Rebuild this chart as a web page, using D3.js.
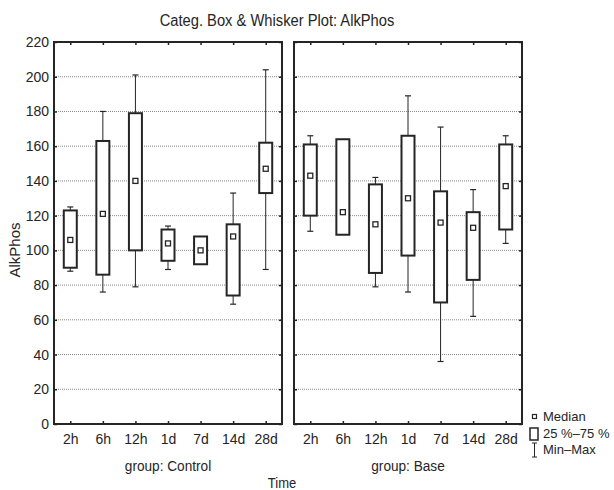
<!DOCTYPE html>
<html>
<head>
<meta charset="utf-8">
<script src="https://cdn.jsdelivr.net/npm/d3@7"></script>
<style>
  body { margin: 0; background: #fff; }
  svg { display: block; font-family: "Liberation Sans", Arial, sans-serif; }
</style>
</head>
<body>
<script>
let W = 614;
let H = 490;

// categories
let times = ["2h", "6h", "12h", "1d", "7d", "14d", "28d"];
let groups = ["Control", "Base"];
let yTicks = [0, 20, 40, 60, 80, 100, 120, 140, 160, 180, 200, 220];

// group: Control
let controlMin = [88, 76, 79, 89, 92, 69, 89];
let controlQ1  = [90, 86, 100, 94, 92, 74, 133];
let controlMed = [106, 121, 140, 104, 100, 108, 147];
let controlQ3  = [123, 163, 179, 112, 108, 115, 162];
let controlMax = [125, 180, 201, 114, 108, 133, 204];

// group: Base
let baseMin = [111, 109, 79, 76, 36, 62, 104];
let baseQ1  = [120, 109, 87, 97, 70, 83, 112];
let baseMed = [143, 122, 115, 130, 116, 113, 137];
let baseQ3  = [161, 164, 138, 166, 134, 122, 161];
let baseMax = [166, 164, 142, 189, 171, 135, 166];

let ink = "#252525";

let panels = [
  { name: groups[0], left: 54, right: 282, min: controlMin, q1: controlQ1, med: controlMed, q3: controlQ3, max: controlMax },
  { name: groups[1], left: 294, right: 522, min: baseMin, q1: baseQ1, med: baseMed, q3: baseQ3, max: baseMax }
];

let plotTop = 42, plotBot = 424;

let svg = d3.select("body").append("svg")
  .attr("width", W)
  .attr("height", H);

let yScale = d3.scaleLinear().domain([0, 220]).range([plotBot, plotTop]);

// slightly condensed labels, like the original
let label = (txt, x, y, size, sx) =>
  svg.append("text")
    .text(txt)
    .attr("transform", "translate(" + x + "," + y + ") scale(" + sx + ",1)")
    .attr("text-anchor", "middle")
    .attr("font-size", size + "px")
    .attr("fill", ink);

label("Categ. Box & Whisker Plot: AlkPhos", 277, 26, 16, 0.92);
label("Time", 282, 488, 14, 0.93);

svg.append("text")
  .text("AlkPhos")
  .attr("transform", "translate(20, 250) rotate(-90)")
  .attr("text-anchor", "middle")
  .attr("font-size", "15px")
  .attr("fill", ink);

let boxW = 13;
let capW = 6;

panels.forEach((p, pi) => {
  let xScale = d3.scalePoint().domain(times).range([p.left, p.right]).padding(0.5);
  let g = svg.append("g");

  // grid
  g.selectAll(".grid")
    .data(yTicks.filter(d => d > 0 && d < 220))
    .enter().append("line")
    .attr("x1", p.left).attr("x2", p.right)
    .attr("y1", d => yScale(d)).attr("y2", d => yScale(d))
    .attr("stroke", "#8a8a8a")
    .attr("stroke-width", 1)
    .attr("stroke-dasharray", "1,1");

  // axes with inward ticks
  let yl = g.append("g")
    .attr("transform", "translate(" + p.left + ",0)")
    .call(d3.axisLeft(yScale).tickValues(yTicks).tickSizeInner(-3).tickSizeOuter(0).tickPadding(5));
  if (pi > 0) yl.selectAll("text").remove();
  g.append("g")
    .attr("transform", "translate(" + p.right + ",0)")
    .call(d3.axisRight(yScale).tickValues(yTicks).tickSizeInner(-3).tickSizeOuter(0))
    .selectAll("text").remove();
  g.append("g")
    .attr("transform", "translate(0," + plotBot + ")")
    .call(d3.axisBottom(xScale).tickSizeInner(-3).tickSizeOuter(0).tickPadding(10));
  g.append("g")
    .attr("transform", "translate(0," + plotTop + ")")
    .call(d3.axisTop(xScale).tickSizeInner(-3).tickSizeOuter(0))
    .selectAll("text").remove();

  g.selectAll(".domain").remove();
  g.selectAll(".tick line").attr("stroke", ink).attr("stroke-width", 1.5);
  g.selectAll(".tick text").attr("font-size", "14px").attr("fill", ink).attr("font-family", "Liberation Sans, Arial, sans-serif");

  // frame
  g.append("rect")
    .attr("x", p.left).attr("y", plotTop)
    .attr("width", p.right - p.left).attr("height", plotBot - plotTop)
    .attr("fill", "none")
    .attr("stroke", ink)
    .attr("stroke-width", 2);

  let rows = times.map((t, i) => ({ t: t, min: p.min[i], q1: p.q1[i], med: p.med[i], q3: p.q3[i], max: p.max[i] }));

  let item = g.selectAll(".item").data(rows).enter().append("g")
    .attr("transform", d => "translate(" + xScale(d.t) + ",0)");

  // whiskers
  item.filter(d => d.max > d.q3).append("line")
    .attr("y1", d => yScale(d.q3)).attr("y2", d => yScale(d.max))
    .attr("stroke", ink).attr("stroke-width", 1);
  item.filter(d => d.max > d.q3).append("line")
    .attr("x1", -capW / 2).attr("x2", capW / 2)
    .attr("y1", d => yScale(d.max)).attr("y2", d => yScale(d.max))
    .attr("stroke", ink).attr("stroke-width", 1.2);
  item.filter(d => d.min < d.q1).append("line")
    .attr("y1", d => yScale(d.q1)).attr("y2", d => yScale(d.min))
    .attr("stroke", ink).attr("stroke-width", 1);
  item.filter(d => d.min < d.q1).append("line")
    .attr("x1", -capW / 2).attr("x2", capW / 2)
    .attr("y1", d => yScale(d.min)).attr("y2", d => yScale(d.min))
    .attr("stroke", ink).attr("stroke-width", 1.2);

  // box
  item.append("rect")
    .attr("x", -boxW / 2)
    .attr("y", d => yScale(d.q3))
    .attr("width", boxW)
    .attr("height", d => yScale(d.q1) - yScale(d.q3))
    .attr("fill", "#fff")
    .attr("stroke", ink)
    .attr("stroke-width", 2);

  // median
  item.append("rect")
    .attr("x", -2.5)
    .attr("y", d => yScale(d.med) - 2.5)
    .attr("width", 5).attr("height", 5)
    .attr("fill", "#fff")
    .attr("stroke", ink)
    .attr("stroke-width", 1.3);

  label("group: " + p.name, (p.left + p.right) / 2, 471, 15.5, 0.88);
});

// legend
let lg = svg.append("g");
lg.append("rect").attr("x", 532.5).attr("y", 414.5).attr("width", 4).attr("height", 4)
  .attr("fill", "#fff").attr("stroke", ink).attr("stroke-width", 1.2);
lg.append("rect").attr("x", 530).attr("y", 428).attr("width", 8).attr("height", 12)
  .attr("fill", "#fff").attr("stroke", ink).attr("stroke-width", 1.5);
lg.append("line").attr("x1", 534.5).attr("x2", 534.5).attr("y1", 443).attr("y2", 457)
  .attr("stroke", ink).attr("stroke-width", 1);
lg.append("line").attr("x1", 532).attr("x2", 537).attr("y1", 443).attr("y2", 443)
  .attr("stroke", ink).attr("stroke-width", 1);
lg.append("line").attr("x1", 532).attr("x2", 537).attr("y1", 457).attr("y2", 457)
  .attr("stroke", ink).attr("stroke-width", 1);
let legendLabels = ["Median", "25 %\u201375 %", "Min\u2013Max"];
lg.selectAll(".lt").data(legendLabels).enter().append("text")
  .text(d => d)
  .attr("x", 543)
  .attr("y", (d, i) => 421 + i * 16.5)
  .attr("font-size", "13px")
  .attr("fill", ink);
</script>
</body>
</html>
